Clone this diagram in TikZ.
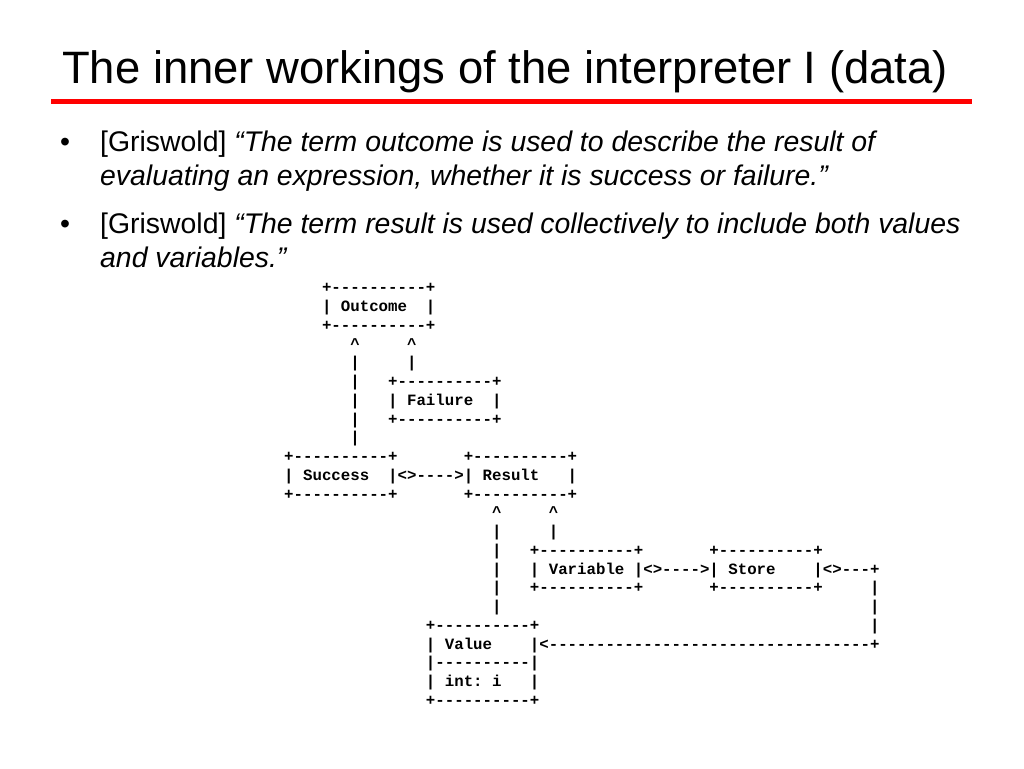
\documentclass[tikz,border=0pt]{standalone}
\usepackage{fontspec}
\setmainfont{Liberation Sans}
\setmonofont{Liberation Mono}
\usepackage{tikz}
\def\cw{9.45}
\def\rh{18.75}
\def\xo{284}
\def\yo{274}
\def\asc(#1:#2:#3)#4{\node[asc] (#1) at ({\xo+#2*\cw}, {\yo+#3*\rh}) {#4};}
\tikzset{asc/.style={anchor=base west, inner sep=0pt, font=\fontsize{15.75}{18}\selectfont\ttfamily\bfseries}}
\tikzset{para/.style={anchor=base west, inner sep=0pt, font=\fontsize{28.4}{34}\selectfont}}
\begin{document}
\frenchspacing
\begin{tikzpicture}[x=1pt, y=-1pt]
			%%%%% START %%%%%
			
			\useasboundingbox[fill=white] (0, 0) rectangle (1024, 768);
			
			\node[anchor=base west, inner sep=0pt, font=\fontsize{45.4}{54}\selectfont] (title) at (62, 83) {The inner workings of the interpreter I (data)};
			\draw[line width=4.5pt, color=red] (51, 101.7) -- (972, 101.7);
			
			\node[para] (dot1) at (60, 151) {•};
			\node[para] (q1a) at (100, 151) {[Griswold] \textit{“The term outcome is used to describe the result of}};
			\node[para] (q1b) at (100, 185) {\textit{evaluating an expression, whether it is success or failure.”}};
			\node[para] (dot2) at (60, 233) {•};
			\node[para] (q2a) at (100, 233) {[Griswold] \textit{“The term result is used collectively to include both values}};
			\node[para] (q2b) at (100, 267) {\textit{and variables.”}};
			
			% outcome and failure
			\asc(r1:4:1){+----------+}
			\asc(r2:4:2){|~Outcome~~|}
			\asc(r3:4:3){+----------+}
			\asc(r4:7:4){\textasciicircum~~~~~\textasciicircum}
			\asc(r5:7:5){|~~~~~|}
			\asc(r6:7:6){|~~~+----------+}
			\asc(r7:7:7){|~~~|~Failure~~|}
			\asc(r8:7:8){|~~~+----------+}
			\asc(r9:7:9){|}
			
			% success and result
			\asc(r10:0:10){+----------+~~~~~~~+----------+}
			\asc(r11:0:11){|~Success~~|<>---->|~Result~~~|}
			\asc(r12:0:12){+----------+~~~~~~~+----------+}
			\asc(r13:22:13){\textasciicircum~~~~~\textasciicircum}
			\asc(r14:22:14){|~~~~~|}
			
			% variable, store and value
			\asc(r15:22:15){|~~~+----------+~~~~~~~+----------+}
			\asc(r16:22:16){|~~~|~Variable~|<>---->|~Store~~~~|<>---+}
			\asc(r17:22:17){|~~~+----------+~~~~~~~+----------+~~~~~|}
			\asc(r18:22:18){|}
			\asc(r18b:62:18){|}
			\asc(r19:15:19){+----------+}
			\asc(r19b:62:19){|}
			\asc(r20:15:20){|~Value~~~~|<----------------------------------+}
			\asc(r21:15:21){|----------|}
			\asc(r22:15:22){|~int:~i~~~|}
			\asc(r23:15:23){+----------+}
			
			%%%%% END %%%%%
		\end{tikzpicture}
\end{document}
